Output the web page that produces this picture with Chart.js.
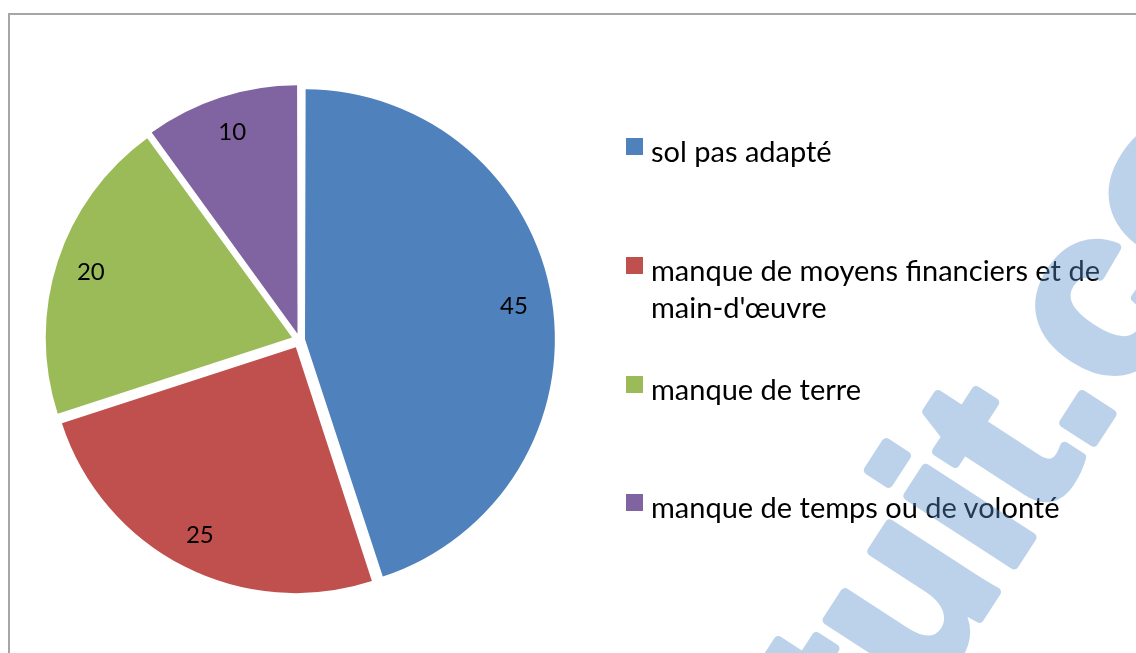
<!DOCTYPE html>
<html>
<head>
<meta charset="utf-8">
<script src="https://cdn.jsdelivr.net/npm/chart.js@4.4.1/dist/chart.umd.min.js"></script>
<style>
    body { margin: 0; background: #fff; }
    #wrap { position: relative; width: 1136px; height: 653px; overflow: hidden; }
    #frame { position: absolute; left: 8px; top: 13px; width: 1200px; height: 700px;
             border-left: 2px solid #a6a6a6; border-top: 2px solid #a6a6a6; }
    #pieChart { position: absolute; left: 0; top: 0; }
    #legend { position: absolute; left: 626px; top: 0; }
    .item { position: absolute; left: 0; width: 485px; padding-left: 25px;
            font: 29px Lato, sans-serif; line-height: 37px; color: #000; }
    .box { position: absolute; left: 0; top: 6px; width: 17px; height: 17px; }
    #mark { position: absolute; left: 0; top: 0; pointer-events: none; opacity: 0.4; }
</style>
</head>
<body>
<div id="wrap">
    <div id="frame"></div>
    <canvas id="pieChart" width="1136" height="653"></canvas>
    <div id="legend"></div>
    <canvas id="mark" width="1136" height="653"></canvas>
</div>
<script>
const categories = ['sol pas adapté', "manque de moyens financiers et de main-d'œuvre", 'manque de terre', 'manque de temps ou de volonté'];
const values = [45, 25, 20, 10];
const colors = ['#4F81BD', '#C0504D', '#9BBB59', '#8064A2'];

const total = values.reduce((a, b) => a + b, 0);
const explode = 8;   // px each slice is pulled out

// chart.js shifts a slice by offset/4 and also grows its radius by
// shift * (1 - sin(circ)); pick the shift that keeps both close to "explode"
function sliceShift(i) {
    const circ = values[i] / total * Math.PI * 2;
    const f = 1 + (1 - Math.sin(Math.min(Math.PI, circ)));
    return explode * (1 + f) / (1 + f * f);
}

// value labels near the outer edge of each slice
const sliceLabels = {
    id: 'sliceLabels',
    afterDatasetsDraw(chart) {
        const ctx = chart.ctx;
        const meta = chart.getDatasetMeta(0);
        ctx.save();
        ctx.font = '24px Lato, sans-serif';
        ctx.fillStyle = '#000';
        ctx.textAlign = 'center';
        ctx.textBaseline = 'middle';
        meta.data.forEach((arc, i) => {
            const p = arc.getProps(['x', 'y', 'startAngle', 'endAngle', 'outerRadius'], true);
            const mid = (p.startAngle + p.endAngle) / 2;
            const dist = sliceShift(i) + p.outerRadius * 0.86;
            ctx.fillText(String(values[i]), p.x + Math.cos(mid) * dist, p.y + Math.sin(mid) * dist);
        });
        ctx.restore();
    }
};

new Chart(document.getElementById('pieChart'), {
    type: 'pie',
    data: {
        labels: categories,
        datasets: [{
            data: values,
            backgroundColor: colors,
            borderWidth: 0,
            offset: ctx => sliceShift(ctx.dataIndex) * 4,
            hoverOffset: 0
        }]
    },
    options: {
        responsive: false,
        animation: false,
        events: [],
        radius: 246,
        layout: { padding: { left: 48, right: 585, top: 89, bottom: 62 } },
        plugins: {
            legend: { display: false },
            tooltip: { enabled: false }
        }
    },
    plugins: [sliceLabels]
});

// legend on the right
const legend = document.getElementById('legend');
categories.forEach((name, i) => {
    const item = document.createElement('div');
    item.className = 'item';
    item.style.top = (132.3 + i * 118.7) + 'px';
    const box = document.createElement('span');
    box.className = 'box';
    box.style.background = colors[i];
    item.appendChild(box);
    item.appendChild(document.createTextNode(name));
    legend.appendChild(item);
});

// watermark across the right side (opaque here, canvas itself is faded)
const mctx = document.getElementById('mark').getContext('2d');
mctx.save();
mctx.font = 'bold 240px "Liberation Sans"';
mctx.fillStyle = 'rgb(88, 145, 203)';
mctx.strokeStyle = 'rgb(88, 145, 203)';
mctx.lineWidth = 9;
mctx.lineJoin = 'round';
mctx.translate(1103, 428);
mctx.rotate(-57 * Math.PI / 180);
const pre = 'rapport-gratuit';
const x0 = -(mctx.measureText(pre).width + mctx.measureText('.').width / 2);
mctx.fillText('rapport-gratuit.com', x0, 0);
mctx.strokeText('rapport-gratuit.com', x0, 0);
mctx.restore();
</script>
</body>
</html>
